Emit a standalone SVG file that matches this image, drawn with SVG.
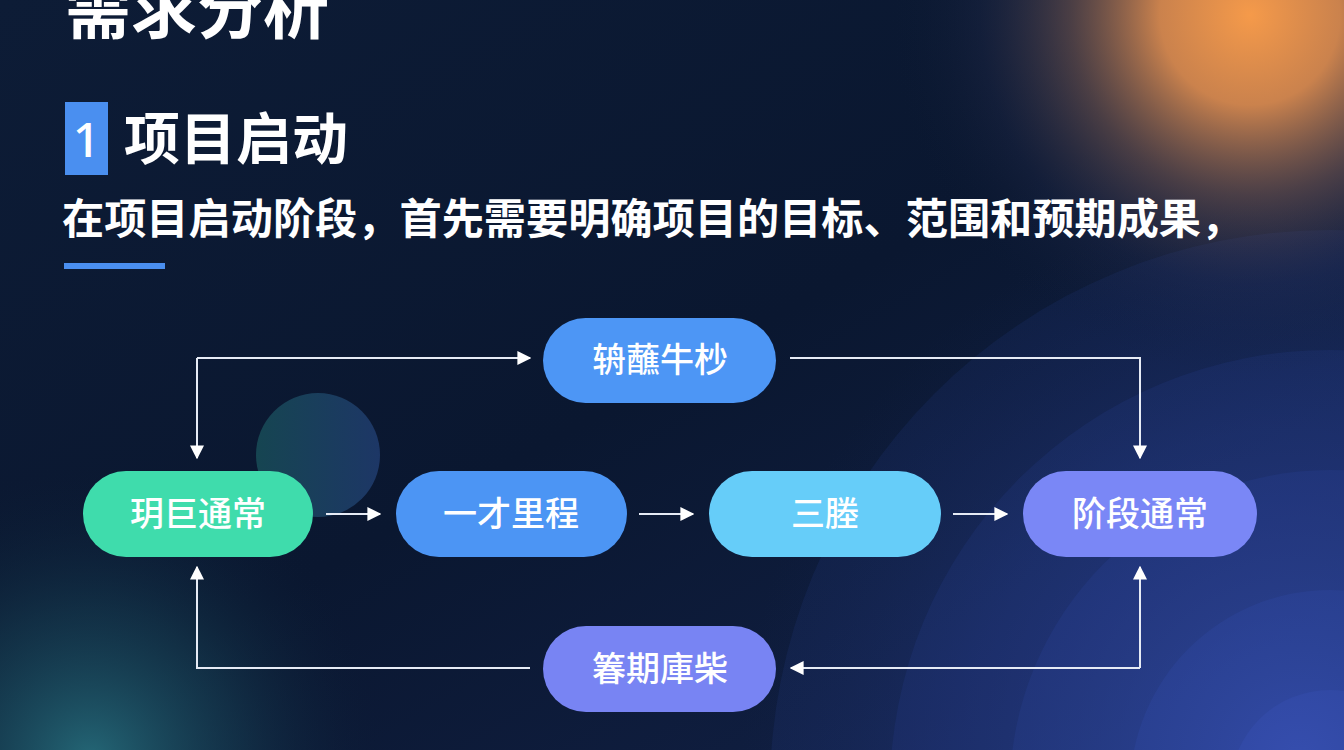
<svg xmlns="http://www.w3.org/2000/svg" width="1344" height="750" viewBox="0 0 1344 750">
<defs>
<linearGradient id="bg" x1="0" y1="0" x2="1" y2="1">
<stop offset="0" stop-color="#0d1c36"/>
<stop offset="0.5" stop-color="#0a1730"/>
<stop offset="1" stop-color="#13224a"/>
</linearGradient>
<radialGradient id="orange" cx="1250" cy="15" r="360" gradientUnits="userSpaceOnUse">
<stop offset="0" stop-color="#f59a4a" stop-opacity="1"/>
<stop offset="0.25" stop-color="#e08e50" stop-opacity="0.9"/>
<stop offset="0.5" stop-color="#8a6458" stop-opacity="0.5"/>
<stop offset="0.75" stop-color="#34375a" stop-opacity="0.2"/>
<stop offset="1" stop-color="#0d1c36" stop-opacity="0"/>
</radialGradient>
<radialGradient id="teal" cx="90" cy="760" r="300" gradientUnits="userSpaceOnUse">
<stop offset="0" stop-color="#27707e" stop-opacity="0.9"/>
<stop offset="0.5" stop-color="#1a4a5c" stop-opacity="0.45"/>
<stop offset="1" stop-color="#0a1730" stop-opacity="0"/>
</radialGradient>
<radialGradient id="blueglow" cx="1300" cy="760" r="560" gradientUnits="userSpaceOnUse">
<stop offset="0" stop-color="#4a62d6" stop-opacity="0.9"/>
<stop offset="0.6" stop-color="#2a3f94" stop-opacity="0.5"/>
<stop offset="1" stop-color="#1a2a60" stop-opacity="0"/>
</radialGradient>
<linearGradient id="bubble" x1="0" y1="0" x2="1" y2="0">
<stop offset="0" stop-color="#174a55"/>
<stop offset="1" stop-color="#1f3a6c"/>
</linearGradient>
<marker id="arr" viewBox="0 0 10 10" refX="9" refY="5" markerWidth="14" markerHeight="14" markerUnits="userSpaceOnUse" orient="auto">
<path d="M0,0 L10,5 L0,10 z" fill="#ffffff"/>
</marker>
</defs>
<style>
.lbl{font-family:"Noto Sans CJK SC","Noto Sans",sans-serif;font-size:34px;font-weight:500;fill:#ffffff;text-anchor:middle}
.con{fill:none;stroke:#e6ebf5;stroke-width:2}
</style>
<rect width="1344" height="750" fill="url(#bg)"/>
<rect width="1344" height="750" fill="url(#teal)"/>
<g fill="#3350b8">
<circle cx="1330" cy="790" r="560" fill-opacity="0.12"/>
<circle cx="1330" cy="790" r="440" fill-opacity="0.14"/>
<circle cx="1330" cy="790" r="320" fill-opacity="0.16"/>
<circle cx="1330" cy="790" r="200" fill-opacity="0.2"/>
<circle cx="1330" cy="790" r="100" fill-opacity="0.25"/>
</g>
<rect width="1344" height="750" fill="url(#blueglow)" opacity="0.5"/>
<rect width="1344" height="750" fill="url(#orange)"/>
<circle cx="318" cy="455" r="62" fill="url(#bubble)" opacity="0.9"/>

<g id="title">
<text x="65" y="33" font-family="Noto Sans CJK SC, sans-serif" font-size="66" font-weight="700" fill="#ffffff">需求分析</text>
</g>
<g id="heading">
<rect x="65" y="102" width="43" height="73" fill="#4a8ff0"/>
<text x="86.500" y="157" font-family="Noto Sans, sans-serif" font-size="48" font-weight="500" fill="#ffffff" text-anchor="middle">1</text>
<text x="124" y="159" font-family="Noto Sans CJK SC, sans-serif" font-size="56" font-weight="700" fill="#ffffff">项目启动</text>
</g>
<g id="subtitle">
<text x="62" y="234" font-family="Noto Sans CJK SC, sans-serif" font-size="42.2" font-weight="700" fill="#ffffff">在项目启动阶段，首先需要明确项目的目标、范围和预期成果，</text>
<rect x="64" y="263" width="101" height="6" fill="#4a8ff0"/>
</g>

<g id="connectors">
<path class="con" d="M197,358 L530,358" marker-end="url(#arr)"/>
<path class="con" d="M197,358 L197,458" marker-end="url(#arr)"/>
<path class="con" d="M790,358 L1140,358 L1140,458" marker-end="url(#arr)"/>
<path class="con" d="M326,514 L380,514" marker-end="url(#arr)"/>
<path class="con" d="M639,514 L693,514" marker-end="url(#arr)"/>
<path class="con" d="M953,514 L1007,514" marker-end="url(#arr)"/>
<path class="con" d="M1140,668 L1140,567" marker-end="url(#arr)"/>
<path class="con" d="M1140,668 L791,668" marker-end="url(#arr)"/>
<path class="con" d="M530,668 L197,668 L197,567" marker-end="url(#arr)"/>
</g>

<g id="node-start">
<rect x="83" y="471" width="230" height="86" rx="43" fill="#3fdcac"/>
<text class="lbl" x="198" y="526">玥巨通常</text>
</g>
<g id="node-b">
<rect x="396" y="471" width="231" height="86" rx="43" fill="#4c95f4"/>
<text class="lbl" x="511" y="526">一才里程</text>
</g>
<g id="node-c">
<rect x="709" y="471" width="232" height="86" rx="43" fill="#66cdf9"/>
<text class="lbl" x="825" y="526">三塍</text>
</g>
<g id="node-d">
<rect x="1023" y="471" width="234" height="86" rx="43" fill="#7a87f6"/>
<text class="lbl" x="1140" y="526">阶段通常</text>
</g>
<g id="node-top">
<rect x="543" y="318" width="233" height="85" rx="42.500" fill="#4d96f5"/>
<text class="lbl" x="660" y="372">辀蘸牛杪</text>
</g>
<g id="node-bottom">
<rect x="543" y="626" width="233" height="86" rx="43" fill="#7884f3"/>
<text class="lbl" x="660" y="681">箺期庫柴</text>
</g>
</svg>
